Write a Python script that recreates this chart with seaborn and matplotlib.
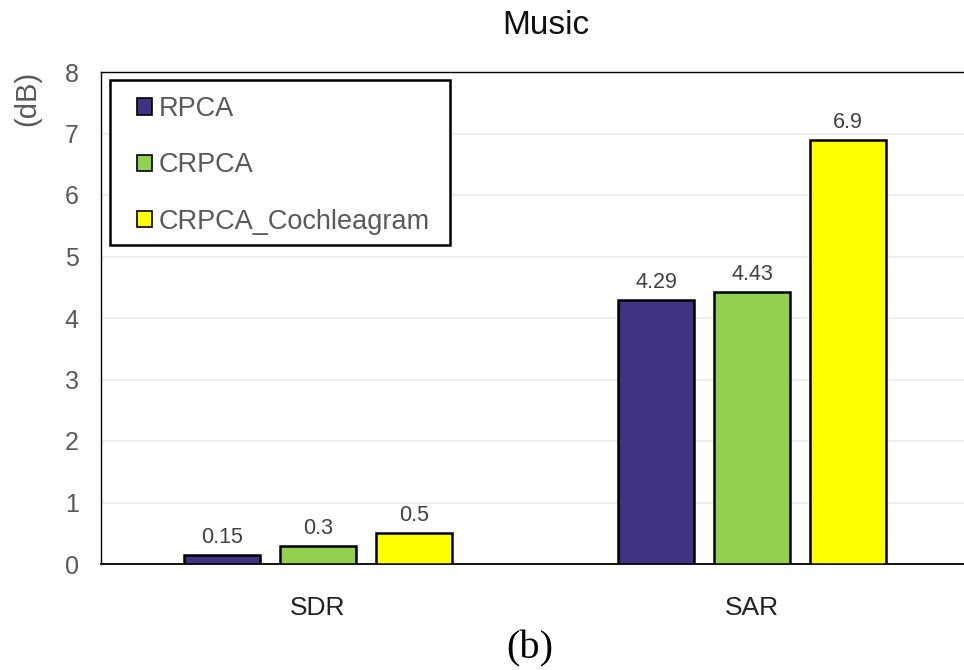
import matplotlib
matplotlib.use("Agg")
import matplotlib.pyplot as plt
from matplotlib.patches import Rectangle
import seaborn as sns
import pandas as pd

metrics = ["SDR", "SAR"]
methods = ["RPCA", "CRPCA", "CRPCA_Cochleagram"]
rpca = [0.15, 4.29]
crpca = [0.3, 4.43]
crpca_coch = [0.5, 6.9]
colors = ["#3F3384", "#92D050", "#FFFF00"]
yticks = [0, 1, 2, 3, 4, 5, 6, 7, 8]

df = pd.DataFrame({
    "metric": metrics * 3,
    "method": [methods[0]] * 2 + [methods[1]] * 2 + [methods[2]] * 2,
    "value": rpca + crpca + crpca_coch,
})

sns.set_theme(style="white")
plt.rcParams["font.family"] = ["Liberation Sans", "DejaVu Sans"]

W, H = 964, 670
fig = plt.figure(figsize=(W / 100, H / 100), dpi=100)
ax = fig.add_axes([101 / W, 1 - 564 / H, 1 - 101 / W, (564 - 72) / H])

sns.barplot(data=df, x="metric", y="value", hue="method", hue_order=methods,
            palette=colors, saturation=1, width=0.663, gap=0.21,
            edgecolor="black", linewidth=1.8, ax=ax, zorder=3)

for c in ax.containers:
    ax.bar_label(c, fmt="%g", padding=5, fontsize=15.5, color="#404040")

ax.set_ylim(0, 8)
ax.set_xlim(-0.5, 1.488)
ax.set_yticks(yticks)
ax.yaxis.grid(True, color="#ECECEC", linewidth=1.2, zorder=0)
ax.set_axisbelow(True)
ax.tick_params(axis="y", length=0, pad=16, labelsize=18, labelcolor="#595959")
ax.tick_params(axis="x", length=0, pad=23, labelsize=19, labelcolor="#222222")
ax.set_xlabel("")
ax.set_ylabel("")
for s in ["left", "top"]:
    ax.spines[s].set_color("black")
    ax.spines[s].set_linewidth(1.0)
ax.spines["bottom"].set_color("black")
ax.spines["bottom"].set_linewidth(1.3)
ax.spines["right"].set_visible(False)

# legend frame drawn separately
ax.add_patch(Rectangle((110 / W, 1 - 245 / H), 340 / W, 165 / H,
                       transform=fig.transFigure, facecolor="white",
                       edgecolor="black", linewidth=1.8, zorder=5,
                       clip_on=False))

leg = ax.legend(loc="upper left", bbox_to_anchor=(137 / W, 1 - 96 / H),
                bbox_transform=fig.transFigure, borderaxespad=0, borderpad=0,
                fontsize=19.5, labelcolor="#595959", frameon=False,
                handlelength=0.55, handleheight=0.55,
                handletextpad=0.25, labelspacing=1.12, title=None)
leg.set_zorder(6)
for h in leg.legend_handles:
    h.set_edgecolor("black")
    h.set_linewidth(1.2)

fig.text(546 / W, 1 - 25 / H, "Music", ha="center", va="center",
         fontsize=24, color="#111111")
fig.text(27 / W, 1 - 98 / H, "(dB)", ha="center", va="center",
         rotation=90, fontsize=21, color="#595959")
fig.text(530 / W, 1 - 649 / H, "(b)", ha="center", va="center",
         fontsize=29, family=["Liberation Serif", "DejaVu Serif"], color="black")

fig.savefig("out.png", dpi=100)
